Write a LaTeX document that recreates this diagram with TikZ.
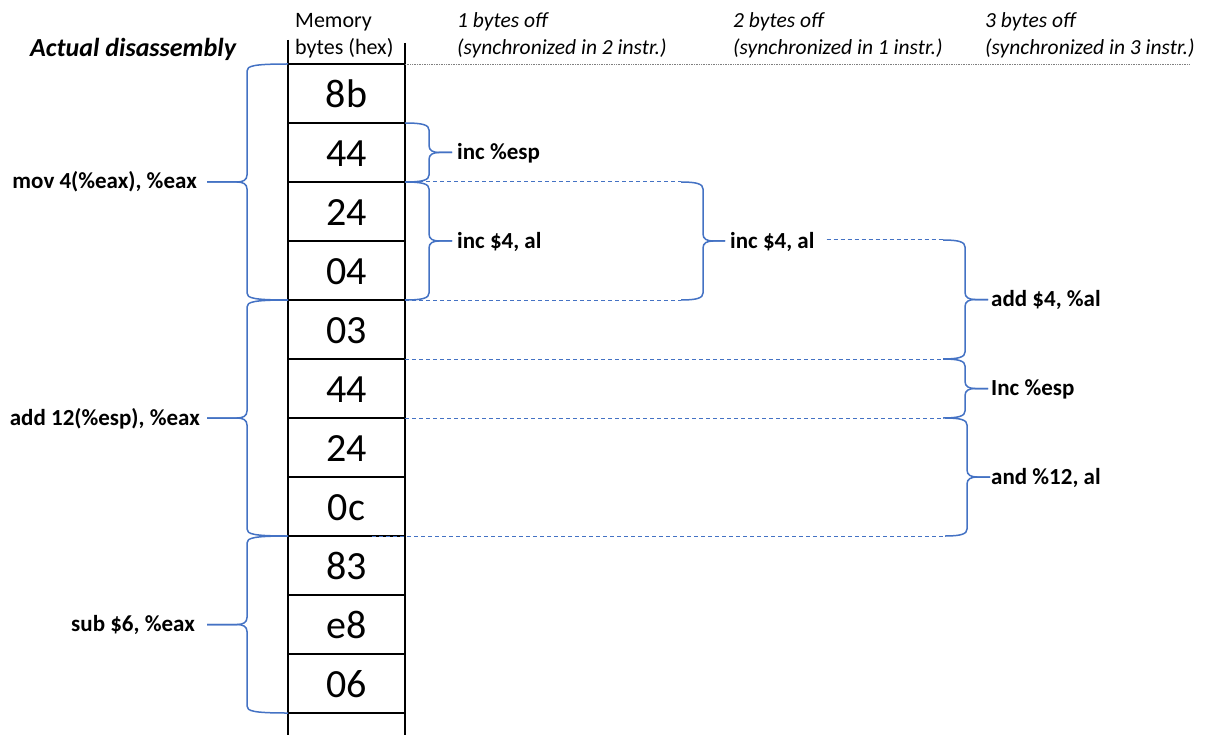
\documentclass[tikz,border=0pt]{standalone}
\usepackage{fontspec}
\setmainfont{Carlito}
\definecolor{braceblue}{HTML}{4472C4}
\definecolor{rulegray}{HTML}{808080}

% curly brace: #1 style, #2 end x, #3 spine x, #4 tip x, #5 top y, #6 bottom y
\newcommand{\curlybrace}[6]{%
  \pgfmathsetmacro\bym{(#5+#6)/2}%
  \pgfmathsetmacro\bs{sign(#4-#3)}%
  \draw[#1] (#2,#5) .. controls ({#3-6*\bs},#5) and (#3,{#5+2}) .. (#3,{#5+7})
    -- (#3,{\bym-7}) .. controls (#3,{\bym-2}) and ({#3+4*\bs},\bym) .. ({#3+10*\bs},\bym)
    -- (#4,\bym);
  \draw[#1] (#4,\bym) -- ({#3+10*\bs},\bym)
    .. controls ({#3+4*\bs},\bym) and (#3,{\bym+2}) .. (#3,{\bym+7})
    -- (#3,{#6-7}) .. controls (#3,{#6-2}) and ({#3-6*\bs},#6) .. (#2,#6);
}

\begin{document}
\begin{tikzpicture}[x=1pt,y=-1pt,
  brc/.style={braceblue,line width=1.5pt,line join=round},
  sync/.style={braceblue,line width=1pt,dash pattern=on 4pt off 3pt},
  cellline/.style={black,line width=1.4pt},
  byte/.style={font=\fontsize{40}{48}\selectfont,anchor=base,inner sep=0pt},
  ins/.style={font=\fontsize{23}{28}\selectfont\bfseries,inner sep=0pt},
  insl/.style={ins,anchor=base east},
  insr/.style={ins,anchor=base west},
  head/.style={font=\fontsize{22}{26}\selectfont,anchor=base west,inner sep=0pt},
  ihead/.style={font=\fontsize{21.5}{26}\selectfont\itshape,anchor=base west,inner sep=0pt}]
\useasboundingbox (0,0) rectangle (1206,735);
\fill[white] (0,0) rectangle (1206,735);

% headings
\node[font=\fontsize{26}{30}\selectfont\bfseries\itshape,anchor=base west,inner sep=0pt]
  (title) at (30,57) {Actual disassembly};
\node[head] (memA) at (295,28) {Memory};
\node[head] (memB) at (295,55) {bytes (hex)};
\node[ihead] (h1a) at (457,28) {1 bytes off};
\node[ihead] (h1b) at (457,55) {(synchronized in 2 instr.)};
\node[ihead] (h2a) at (733,28) {2 bytes off};
\node[ihead] (h2b) at (733,55) {(synchronized in 1 instr.)};
\node[ihead] (h3a) at (985,28) {3 bytes off};
\node[ihead] (h3b) at (985,55) {(synchronized in 3 instr.)};

% memory column
\draw[cellline] (288,40) -- (288,735);
\draw[cellline] (405,43) -- (405,735);
\foreach \i in {0,...,11}{
  \draw[cellline] (288,{64+59*\i}) -- (405,{64+59*\i});
}
\draw[rulegray,line width=0.7pt,densely dotted] (405,64) -- (1190,64);

\foreach \t [count=\i] in {8b,44,24,04,03,44,24,0c,83,e8,06}{
  \node[byte] (byte\i) at (346.5,{64+59*(\i-1)+29.5+14}) {\t};
}

% actual disassembly
\node[insl] (mov) at (197,189) {mov 4(\%eax), \%eax};
\node[insl] (addesp) at (200,425) {add 12(\%esp), \%eax};
\node[insl] (subeax) at (195,631.5) {sub \$6, \%eax};
\curlybrace{brc}{288}{247}{207}{64}{300}
\curlybrace{brc}{288}{247}{207}{300}{536}
\curlybrace{brc}{288}{247}{207}{536}{713}

% one byte off
\node[insr] (oneA) at (457,160) {inc \%esp};
\node[insr] (oneB) at (457,248) {inc \$4, al};
\curlybrace{brc}{405}{429}{452}{123}{182}
\curlybrace{brc}{405}{429}{452}{182}{300}

% two bytes off
\coordinate (twoTop) at (681,182);
\coordinate (twoBot) at (681,300);
\draw[sync] (405,182) -- (twoTop);
\draw[sync] (405,300) -- (twoBot);
\node[insr] (twoA) at (730,248) {inc \$4, al};
\curlybrace{brc}{681}{703}{725}{182}{300}

% three bytes off
\coordinate (thrA) at (943,240);
\coordinate (thrB) at (943,359);
\coordinate (thrC) at (943,418);
\coordinate (thrD) at (945,536);
\draw[sync] ([xshift=12pt]twoA.east |- thrA) -- (thrA);
\draw[sync] (405,359) -- (thrB);
\draw[sync] (405,418) -- (thrC);
\draw[sync] (372,536) -- (thrD);
\node[insr] (thrAlab) at (991,306.5) {add \$4, \%al};
\node[insr] (thrBlab) at (991,395.5) {Inc \%esp};
\node[insr] (thrClab) at (991,484) {and \%12, al};
\curlybrace{brc}{943}{965}{988}{240}{359}
\curlybrace{brc}{943}{965}{988}{359}{418}
\curlybrace{brc}{945}{967}{990}{418}{536}
\end{tikzpicture}
\end{document}
